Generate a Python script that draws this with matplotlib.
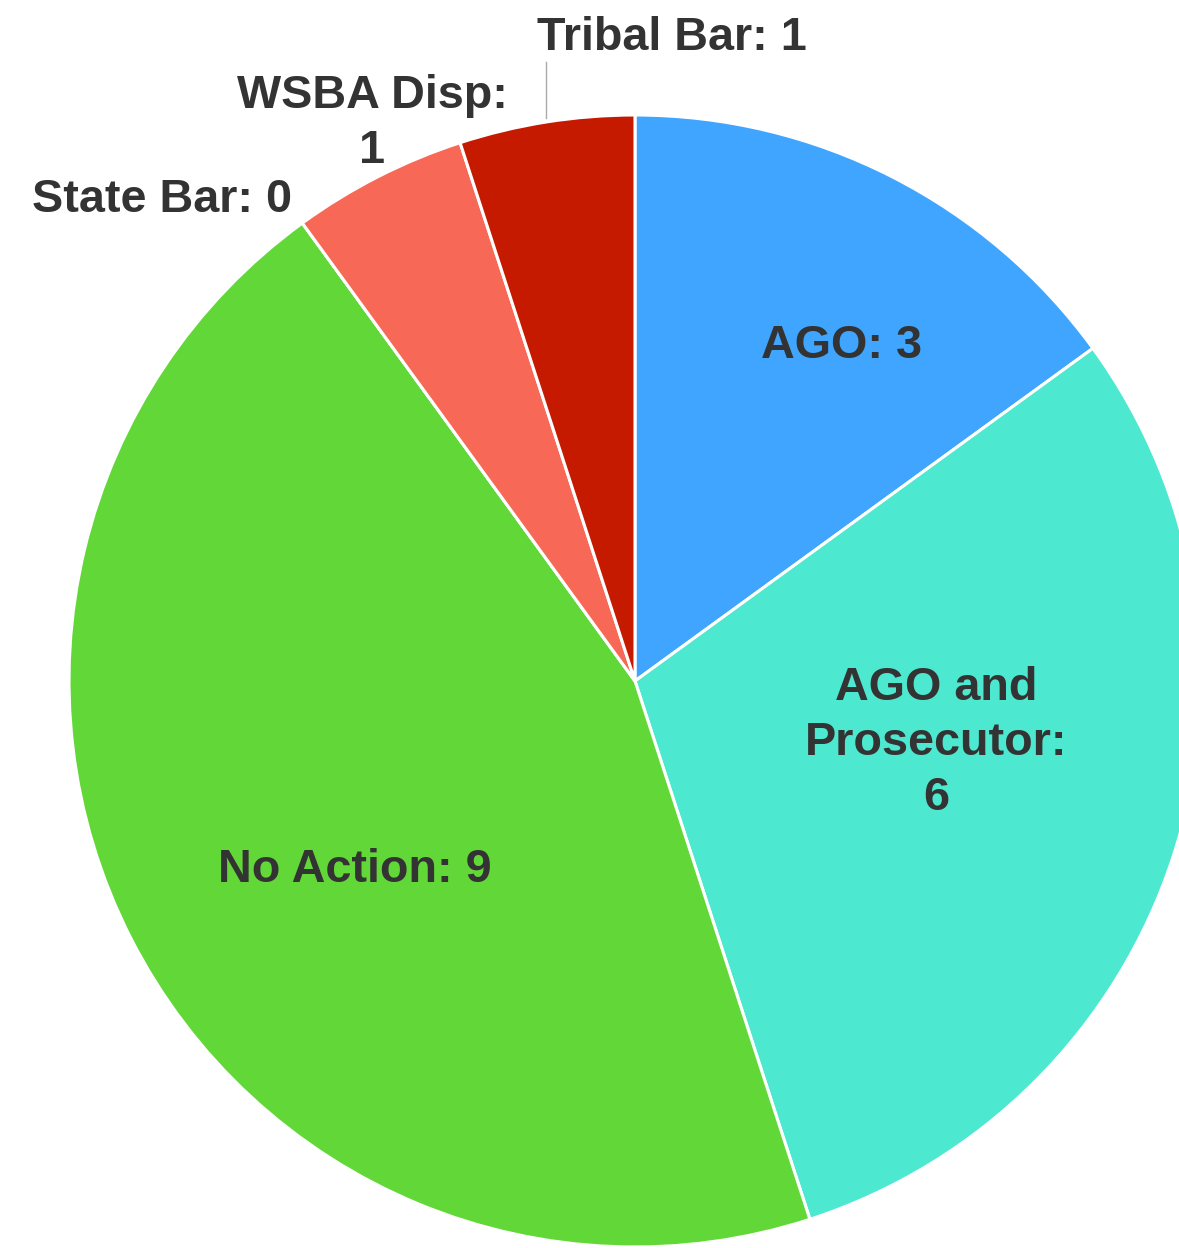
import matplotlib
matplotlib.use("Agg")
import matplotlib.pyplot as plt
import numpy as np

# data
categories = ["AGO", "AGO and Prosecutor", "No Action", "State Bar", "WSBA Disp", "Tribal Bar"]
values = [3, 6, 9, 0, 1, 1]
colors = ["#3fa5ff", "#4de8d0", "#62d838", "#888888", "#f76856", "#c51a00"]

# label layout (pixel coords, y from top): text lines, x, baseline of first line
label_text = ["AGO: 3", "AGO and\nProsecutor:\n6", "No Action: 9",
              "State Bar: 0", "WSBA Disp:\n1", "Tribal Bar: 1"]
label_pos = [(842, 358), (936, 700), (355, 882), (162, 212), (372, 108), (672, 50)]

W, H = 1179, 1248
cx, cy, r = 635, 681, 566

plt.rcParams['font.family'] = ['Liberation Sans', 'DejaVu Sans']

fig = plt.figure(figsize=(W / 100, H / 100), dpi=100)
ax = fig.add_axes([0, 0, 1, 1])

wedges, _ = ax.pie(values, colors=colors, startangle=90, counterclock=False,
                   center=(cx, H - cy), radius=r, frame=True,
                   wedgeprops=dict(edgecolor='white', linewidth=2.2))
ax.set_xlim(0, W)
ax.set_ylim(0, H)
ax.set_aspect('equal')
ax.axis('off')

line_h = 55
for txt, (x, y) in zip(label_text, label_pos):
    for i, line in enumerate(txt.split("\n")):
        ax.text(x, H - (y + i * line_h), line, ha='center', va='baseline',
                fontsize=33.7, fontweight='bold', color='#333333')

# connector for the Tribal Bar label
w = wedges[5]
mid = np.deg2rad((w.theta1 + w.theta2) / 2)
ex = cx + r * np.cos(mid)
ey = H - cy + r * np.sin(mid)
ax.plot([ex, ex], [ey + 4, H - 62], color='#aaaaaa', linewidth=1)

fig.savefig("out.png", dpi=100)
